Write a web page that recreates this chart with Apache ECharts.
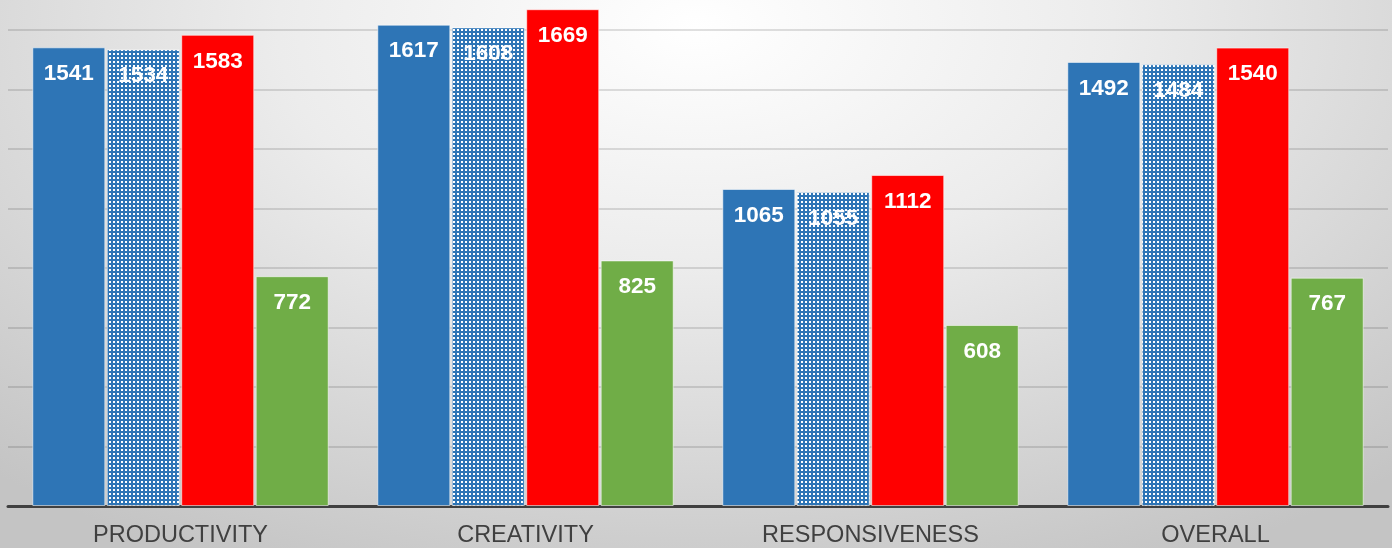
<!DOCTYPE html>
<html>
<head>
<meta charset="utf-8">
<script src="https://cdn.jsdelivr.net/npm/echarts@6/dist/echarts.min.js"></script>
<style>
  html, body { margin: 0; padding: 0; }
  body {
    width: 1392px;
    height: 548px;
    background: radial-gradient(ellipse 75% 110% at 50% 5%, #ffffff 0%, #ececec 40%, #c4c4c4 100%);
  }
  #chart { width: 1392px; height: 548px; }
</style>
</head>
<body>
<div id="chart"></div>
<script>
const categories = ['PRODUCTIVITY', 'CREATIVITY', 'RESPONSIVENESS', 'OVERALL'];
const seriesA = [1541, 1617, 1065, 1492];
const seriesB = [1534, 1608, 1055, 1484];
const seriesC = [1583, 1669, 1112, 1540];
const seriesD = [772, 825, 608, 767];

const BLUE = '#2E75B6';

// dotted blue fill for the second bar of each group
function dotPattern() {
  const c = document.createElement('canvas');
  c.width = 4;
  c.height = 4;
  const ctx = c.getContext('2d');
  ctx.fillStyle = BLUE;
  ctx.fillRect(0, 0, 4, 4);
  ctx.fillStyle = '#ffffff';
  ctx.fillRect(1, 1, 2, 2);
  return c;
}

const labelStyle = {
  show: true,
  position: 'insideTop',
  distance: 15,
  color: '#fff',
  fontSize: 22.5,
  fontWeight: 'bold',
  fontFamily: 'Liberation Sans, Arial, sans-serif'
};

function bar(name, data, color) {
  return {
    name: name,
    type: 'bar',
    data: data,
    barWidth: 73,
    barGap: '2%',
    itemStyle: {
      color: color,
      borderColor: 'rgba(255,255,255,0.55)',
      borderWidth: 1
    },
    label: labelStyle
  };
}

const option = {
  animation: false,
  grid: {
    left: 8,
    right: 4,
    top: 0,
    bottom: 41,
    containLabel: false
  },
  xAxis: {
    type: 'category',
    data: categories,
    axisLine: {
      show: true,
      lineStyle: { color: '#404040', width: 3 }
    },
    axisTick: { show: false },
    axisLabel: {
      fontSize: 23.5,
      color: '#404040',
      margin: 18,
      fontFamily: 'Liberation Sans, Arial, sans-serif'
    }
  },
  yAxis: {
    type: 'value',
    min: 0,
    max: 1700,
    interval: 200,
    axisLine: { show: false },
    axisTick: { show: false },
    axisLabel: { show: false },
    splitLine: {
      show: true,
      showMinLine: false,
      showMaxLine: false,
      lineStyle: { color: 'rgba(0,0,0,0.12)', width: 2 }
    }
  },
  series: [
    bar('A', seriesA, BLUE),
    bar('B', seriesB, { image: dotPattern(), repeat: 'repeat' }),
    bar('C', seriesC, '#FF0000'),
    bar('D', seriesD, '#70AD47')
  ]
};

const myChart = echarts.init(document.getElementById('chart'));
myChart.setOption(option);
</script>
</body>
</html>
